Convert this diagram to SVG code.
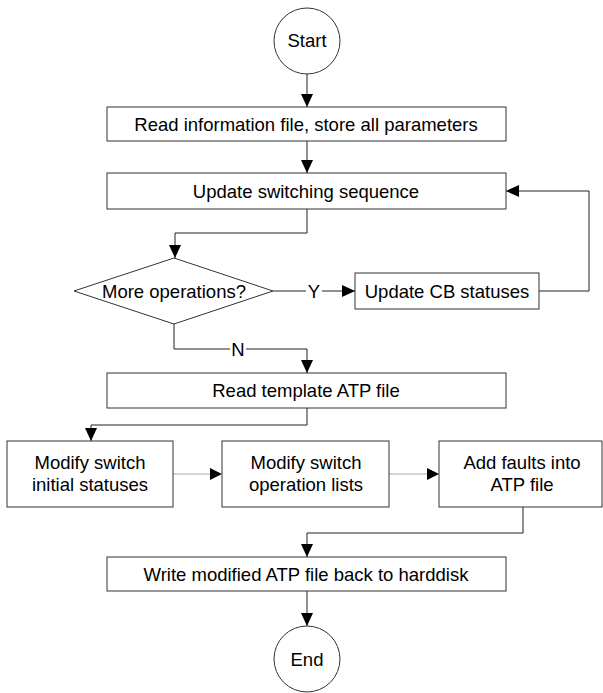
<svg xmlns="http://www.w3.org/2000/svg" width="603" height="693" viewBox="0 0 603 693">
<style>
.box{fill:#fff;stroke:#333;stroke-width:1}
.t{font-family:"Liberation Sans",Arial,sans-serif;font-size:18.5px;fill:#000;text-anchor:middle}
.c{fill:none;stroke:#222;stroke-width:1}
.g{fill:none;stroke:#aaa;stroke-width:1}
</style>
<defs>
<marker id="a" markerWidth="13" markerHeight="12" refX="13" refY="6" orient="auto" markerUnits="userSpaceOnUse">
<path d="M0,0 L13,6 L0,12 Z" fill="#000"/>
</marker>
</defs>
<rect width="603" height="693" fill="#fff"/>
<g id="connectors">
<path class="c" d="M307,74 V107" marker-end="url(#a)"/>
<path class="c" d="M307,141 V173" marker-end="url(#a)"/>
<path class="c" d="M307,209 V233 H175 V258" marker-end="url(#a)"/>
<path class="c" d="M273,291 H306"/>
<path class="c" d="M322,291 H355" marker-end="url(#a)"/>
<path class="c" d="M539,291 H589 V191 H506" marker-end="url(#a)"/>
<path class="c" d="M174,324 V349 H230"/>
<path class="c" d="M246,349 H307 V373" marker-end="url(#a)"/>
<path class="c" d="M307,408 V425 H91 V441" marker-end="url(#a)"/>
<path class="g" d="M173,474 H210"/>
<path d="M210,468 L222,474 L210,480 Z" fill="#000"/>
<path class="g" d="M389,474 H427"/>
<path d="M427,468 L439,474 L427,480 Z" fill="#000"/>
<path class="c" d="M523,507 V533 H307 V557" marker-end="url(#a)"/>
<path class="c" d="M307,591 V626" marker-end="url(#a)"/>
<text class="t" x="314" y="298">Y</text>
<text class="t" x="238" y="356">N</text>
</g>
<g id="start">
<circle class="box" cx="307" cy="41" r="33"/>
<text class="t" x="307" y="47">Start</text>
</g>
<g id="read-info">
<rect class="box" x="107" y="107" width="399" height="34"/>
<text class="t" x="306" y="130.5">Read information file, store all parameters</text>
</g>
<g id="update-seq">
<rect class="box" x="107" y="173" width="399" height="36"/>
<text class="t" x="306" y="197.5">Update switching sequence</text>
</g>
<g id="more-ops">
<polygon class="box" points="74,291 174,258 273,291 174,324"/>
<text class="t" x="174" y="297.5">More operations?</text>
</g>
<g id="update-cb">
<rect class="box" x="355" y="273" width="184" height="36"/>
<text class="t" x="447" y="297.5">Update CB statuses</text>
</g>
<g id="read-template">
<rect class="box" x="107" y="373" width="399" height="35"/>
<text class="t" x="306" y="397">Read template ATP file</text>
</g>
<g id="modify-initial">
<rect class="box" x="7" y="441" width="166" height="66"/>
<text class="t" x="90" y="468.5">Modify switch</text>
<text class="t" x="90" y="490.5">initial statuses</text>
</g>
<g id="modify-ops">
<rect class="box" x="222" y="441" width="167" height="66"/>
<text class="t" x="306" y="468.5">Modify switch</text>
<text class="t" x="306" y="490.5">operation lists</text>
</g>
<g id="add-faults">
<rect class="box" x="439" y="441" width="163" height="66"/>
<text class="t" x="522" y="468.5">Add faults into</text>
<text class="t" x="522" y="490.5">ATP file</text>
</g>
<g id="write-file">
<rect class="box" x="107" y="557" width="399" height="34"/>
<text class="t" x="306" y="580.5">Write modified ATP file back to harddisk</text>
</g>
<g id="end">
<circle class="box" cx="307" cy="659" r="33"/>
<text class="t" x="307" y="665.5">End</text>
</g>
</svg>
